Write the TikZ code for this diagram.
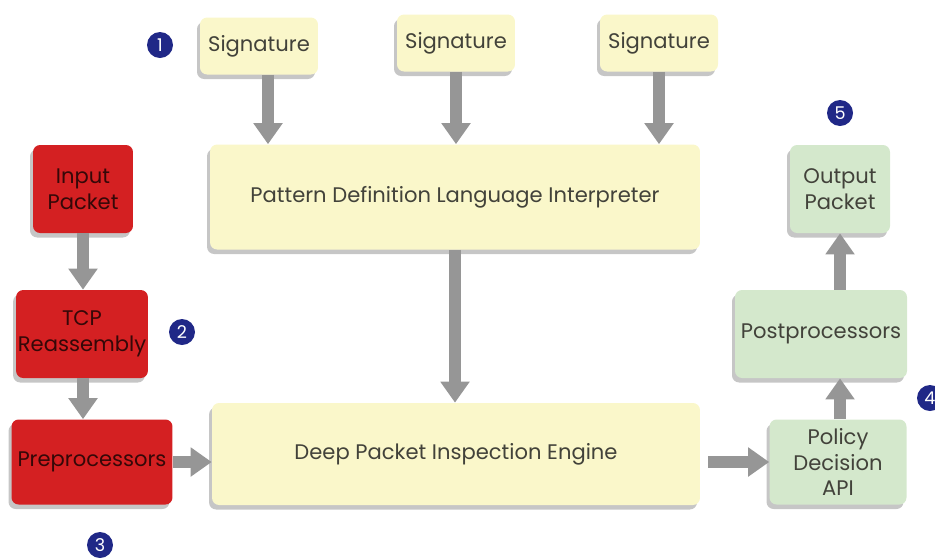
\documentclass[tikz,border=0pt]{standalone}
\usepackage{fontspec}
\setmainfont{Poppins}
\usepackage{tikz}
\usetikzlibrary{arrows.meta, positioning, shadows}
\definecolor{SigYellow}{RGB}{250, 247, 202}
\definecolor{PktRed}{RGB}{212, 32, 34}
\definecolor{OutGreen}{RGB}{212, 232, 204}
\definecolor{NumBlue}{RGB}{32, 40, 135}
\definecolor{ArGray}{RGB}{150, 150, 150}
\definecolor{TxtGray}{RGB}{66, 66, 58}

\begin{document}
\begin{tikzpicture}[x=0.02cm, y=-0.02cm, font=\fontsize{12}{14.5}\selectfont, bx/.style={rounded corners=4pt, align=center, text=TxtGray, inner sep=1pt, drop shadow={shadow xshift=-0.6mm, shadow yshift=-0.9mm, opacity=0.45}}, yb/.style={bx, fill=SigYellow}, rb/.style={bx, fill=PktRed, text=black!75!PktRed}, gb/.style={bx, fill=OutGreen}, num/.style={circle, fill=NumBlue, text=white, inner sep=0pt, minimum size=0.52cm, font=\fontsize{10}{11}\selectfont}, ar/.style={-{Triangle[width=0.56cm, length=0.42cm]}, ArGray, line width=0.24cm}]
\useasboundingbox (0,0) rectangle (935,559);
\node[yb, minimum width=2.36cm, minimum height=1.14cm] (sig1) at (259,46) {Signature};
\node[yb, minimum width=2.36cm, minimum height=1.14cm] (sig2) at (456,43) {Signature};
\node[yb, minimum width=2.36cm, minimum height=1.14cm] (sig3) at (659,43) {Signature};
\node[yb, minimum width=9.8cm, minimum height=2.1cm] (pdl) at (455,197) {Pattern Definition Language Interpreter};
\node[yb, minimum width=9.76cm, minimum height=2.04cm] (dpi) at (456,454) {Deep Packet Inspection Engine};
\node[rb, minimum width=2.0cm, minimum height=1.76cm] (inp) at (83,189) {Input\\Packet};
\node[rb, minimum width=2.62cm, minimum height=1.76cm] (tcp) at (82,334) {TCP\\Reassembly};
\node[rb, minimum width=3.22cm, minimum height=1.7cm] (pre) at (92,462) {Preprocessors};
\node[gb, minimum width=2.74cm, minimum height=1.7cm] (pol) at (838,462) {Policy\\Decision\\API};
\node[gb, minimum width=3.44cm, minimum height=1.76cm] (post) at (821,334) {Postprocessors};
\node[gb, minimum width=2.0cm, minimum height=1.76cm] (out) at (840,189) {Output\\Packet};
\node[num] (n1) at (160,45) {1};
\node[num] (n2) at (182,332) {2};
\node[num] (n3) at (100,545) {3};
\node[num] (n4) at (930,398) {4};
\node[num] (n5) at (840,113) {5};
\draw[ar] ([xshift=0.18cm]sig1.south) -- ([xshift=0.18cm]sig1.south |- pdl.north); \draw[ar] (sig2) -- (sig2 |- pdl.north); \draw[ar] (sig3) -- (sig3 |- pdl.north);
\draw[ar] (pdl) -- (pdl |- dpi.north);
\draw[ar] (inp) -- (inp |- tcp.north); \draw[ar] ([xshift=0.02cm]tcp.south) -- ([xshift=0.02cm]tcp.south |- pre.north);
\draw[ar] (pre.east) -- (pre.east -| dpi.west); \draw[ar] ([xshift=0.16cm]dpi.east |- pol) -- (pol.west);
\draw[ar] ([xshift=0.04cm]pol.north) -- ([xshift=0.04cm]pol.north |- post.south); \draw[ar] (post.north -| out) -- (out.south);
\end{tikzpicture}
\end{document}
